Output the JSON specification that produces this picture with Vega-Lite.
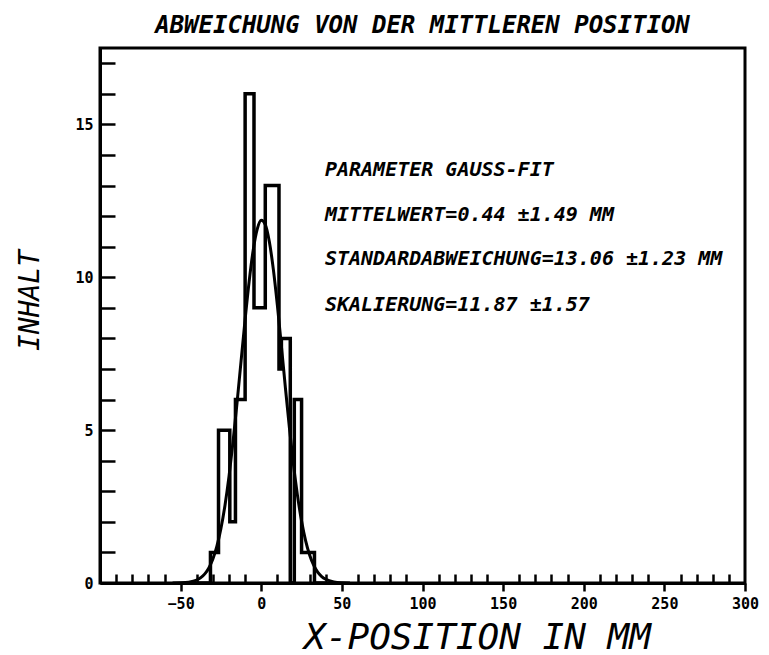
{
  "$schema": "https://vega.github.io/schema/vega-lite/v6.json",
  "width": 645,
  "height": 535,
  "autosize": {"type": "none"},
  "padding": {"left": 100, "top": 48, "right": 24, "bottom": 72},
  "background": "white",
  "view": {"stroke": "black", "strokeWidth": 3},
  "title": {
    "text": "ABWEICHUNG VON DER MITTLEREN POSITION",
    "font": "DejaVu Sans Mono",
    "fontSize": 24,
    "fontStyle": "italic",
    "fontWeight": "bold",
    "color": "black",
    "anchor": "middle",
    "offset": 10
  },
  "datasets": {
    "hist": [
      {"x0": -40, "n": 0},
      {"x0": -31.5, "n": 1},
      {"x0": -26.5, "n": 5},
      {"x0": -19.5, "n": 2},
      {"x0": -16, "n": 6},
      {"x0": -10, "n": 16},
      {"x0": -4.5, "n": 9},
      {"x0": 2.5, "n": 13},
      {"x0": 11, "n": 7},
      {"x0": 12.5, "n": 8},
      {"x0": 18, "n": 0},
      {"x0": 20.5, "n": 6},
      {"x0": 25, "n": 1},
      {"x0": 33, "n": 0},
      {"x0": 40, "n": 0}
    ],
    "curve": [
      {"x": -55, "y": 0.0014}, {"x": -50, "y": 0.0069}, {"x": -45, "y": 0.028},
      {"x": -40, "y": 0.098}, {"x": -37.5, "y": 0.174}, {"x": -35, "y": 0.299},
      {"x": -32.5, "y": 0.493}, {"x": -30, "y": 0.785}, {"x": -27.5, "y": 1.204},
      {"x": -25, "y": 1.78}, {"x": -22.5, "y": 2.538}, {"x": -20, "y": 3.488},
      {"x": -17.5, "y": 4.621}, {"x": -15, "y": 5.901}, {"x": -12.5, "y": 7.266},
      {"x": -10, "y": 8.624}, {"x": -7.5, "y": 9.868}, {"x": -5, "y": 10.884},
      {"x": -2.5, "y": 11.573}, {"x": 0, "y": 11.863}, {"x": 2.5, "y": 11.723},
      {"x": 5, "y": 11.168}, {"x": 7.5, "y": 10.257}, {"x": 10, "y": 9.081},
      {"x": 12.5, "y": 7.75}, {"x": 15, "y": 6.375}, {"x": 17.5, "y": 5.057},
      {"x": 20, "y": 3.867}, {"x": 22.5, "y": 2.85}, {"x": 25, "y": 2.025},
      {"x": 27.5, "y": 1.387}, {"x": 30, "y": 0.916}, {"x": 32.5, "y": 0.583},
      {"x": 35, "y": 0.358}, {"x": 37.5, "y": 0.212}, {"x": 40, "y": 0.121},
      {"x": 45, "y": 0.035}, {"x": 50, "y": 0.0089}, {"x": 55, "y": 0.0019}
    ],
    "notes": [
      {"x": 39.5, "y": 13.5, "t": "PARAMETER GAUSS-FIT"},
      {"x": 39.5, "y": 12.05, "t": "MITTELWERT=0.44 ±1.49 MM"},
      {"x": 39.5, "y": 10.6, "t": "STANDARDABWEICHUNG=13.06 ±1.23 MM"},
      {"x": 39.5, "y": 9.1, "t": "SKALIERUNG=11.87 ±1.57"}
    ]
  },
  "layer": [
    {
      "data": {"name": "hist"},
      "mark": {"type": "line", "interpolate": "step-after", "color": "black", "strokeWidth": 3.5, "clip": true},
      "encoding": {
        "x": {
          "field": "x0", "type": "quantitative",
          "scale": {"domain": [-100, 300], "nice": false, "zero": false},
          "axis": {
            "title": "X-POSITION IN MM",
            "titleFont": "DejaVu Sans Mono",
            "titleFontSize": 36,
            "titleFontStyle": "italic",
            "titleFontWeight": "normal",
            "titleColor": "black",
            "titleX": 377,
            "titleY": 65,
            "titleBaseline": "alphabetic",
            "tickCount": 200,
            "values": [-90,-80,-70,-60,-50,-40,-30,-20,-10,0,10,20,30,40,50,60,70,80,90,100,110,120,130,140,150,160,170,180,190,200,210,220,230,240,250,260,270,280,290,300],
            "labelExpr": "datum.value % 50 === 0 ? datum.label : ''",
            "labelFont": "DejaVu Sans Mono",
            "labelFontSize": 15,
            "labelFontWeight": "bold",
            "labelColor": "black",
            "labelPadding": 5,
            "labelFlush": false,
            "labelOverlap": false,
            "grid": false,
            "domainColor": "black",
            "domainWidth": 3,
            "tickColor": "black",
            "tickWidth": 2.5,
            "tickSize": {"condition": {"test": "datum.value % 50 === 0", "value": 8}, "value": -9}
          }
        },
        "y": {
          "field": "n", "type": "quantitative",
          "scale": {"domain": [0, 17.5], "nice": false, "zero": true},
          "axis": {
            "title": "INHALT",
            "titleFont": "DejaVu Sans Mono",
            "titleFontSize": 28,
            "titleFontStyle": "italic",
            "titleFontWeight": "normal",
            "titleColor": "black",
            "titleX": -70,
            "titleY": 252,
            "titleBaseline": "middle",
            "titleAngle": -90,
            "tickCount": 200,
            "format": "d",
            "values": [0,0.5,1,1.5,2,2.5,3,3.5,4,4.5,5,5.5,6,6.5,7,7.5,8,8.5,9,9.5,10,10.5,11,11.5,12,12.5,13,13.5,14,14.5,15,15.5,16,16.5,17,17.5],
            "labelExpr": "datum.value % 5 === 0 ? datum.label : ''",
            "labelFont": "DejaVu Sans Mono",
            "labelFontSize": 15,
            "labelFontWeight": "bold",
            "labelColor": "black",
            "labelPadding": 22,
            "labelFlush": false,
            "labelOverlap": false,
            "grid": false,
            "domainColor": "black",
            "domainWidth": 3,
            "tickColor": "black",
            "tickWidth": 2.5,
            "tickSize": {"condition": {"test": "datum.value % 1 === 0", "value": -15}, "value": -10}
          }
        }
      }
    },
    {
      "data": {"name": "curve"},
      "mark": {"type": "line", "interpolate": "monotone", "color": "black", "strokeWidth": 3, "clip": true},
      "encoding": {
        "x": {"field": "x", "type": "quantitative"},
        "y": {"field": "y", "type": "quantitative"}
      }
    },
    {
      "data": {"name": "notes"},
      "mark": {"type": "text", "align": "left", "baseline": "middle", "font": "DejaVu Sans Mono", "fontSize": 20, "fontStyle": "italic", "fontWeight": "bold", "color": "black"},
      "encoding": {
        "x": {"field": "x", "type": "quantitative"},
        "y": {"field": "y", "type": "quantitative"},
        "text": {"field": "t"}
      }
    }
  ]
}
